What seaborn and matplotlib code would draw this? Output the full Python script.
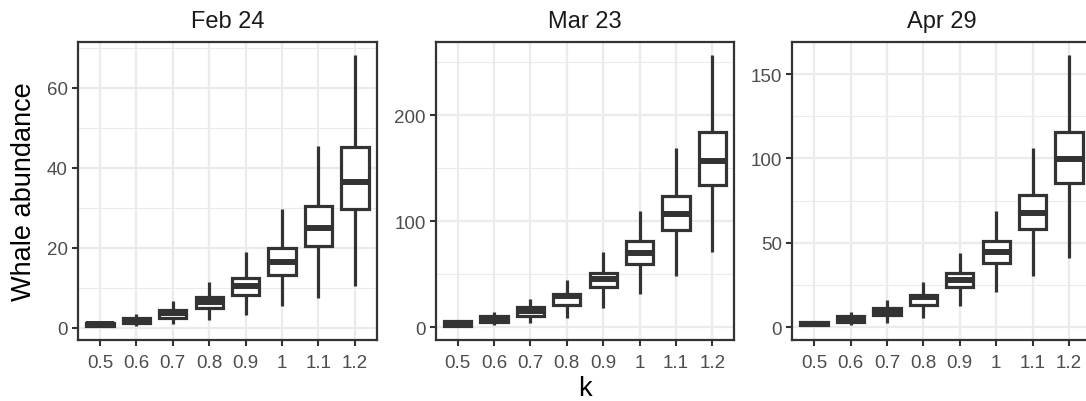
import matplotlib
matplotlib.use("Agg")
import matplotlib.pyplot as plt
import numpy as np
import pandas as pd
import seaborn as sns

# values: whisker low, q1, median, q3, whisker high per k
k_labels = ['0.5', '0.6', '0.7', '0.8', '0.9', '1', '1.1', '1.2']
dates = ['Feb 24', 'Mar 23', 'Apr 29']

feb_lo = [0.3, 0.5, 1.0, 1.9, 3.2, 5.3, 7.5, 10.4]
feb_q1 = [0.5, 1.1, 2.4, 4.8, 8.2, 13.2, 20.3, 29.6]
feb_med = [0.85, 1.8, 3.6, 6.4, 10.4, 16.4, 24.9, 36.5]
feb_q3 = [1.25, 2.4, 4.4, 7.7, 12.5, 19.8, 30.4, 45.2]
feb_hi = [1.7, 3.5, 6.6, 11.4, 18.8, 29.6, 45.4, 68.1]

mar_lo = [0.6, 1.6, 4.1, 8.5, 17.9, 31.1, 48.0, 70.6]
mar_q1 = [1.3, 4.4, 10.4, 21.0, 37.4, 59.7, 92.0, 134.4]
mar_med = [3.5, 7.8, 14.8, 28.9, 44.9, 70.0, 106.8, 156.7]
mar_q3 = [5.3, 10.4, 18.5, 31.4, 51.2, 81.3, 123.4, 183.7]
mar_hi = [6.9, 14.1, 26.1, 44.3, 70.6, 109.9, 169.2, 256.5]

apr_lo = [0.4, 1.4, 2.6, 5.7, 12.4, 20.7, 30.6, 40.9]
apr_q1 = [1.0, 3.0, 6.9, 13.2, 23.5, 38.3, 58.2, 85.5]
apr_med = [2.0, 4.9, 9.3, 17.8, 28.2, 44.4, 67.7, 99.7]
apr_q3 = [3.0, 6.3, 11.2, 19.3, 32.2, 51.1, 78.3, 115.8]
apr_hi = [3.9, 8.7, 16.0, 26.6, 43.8, 68.7, 106.4, 161.2]

major_ticks = [[0, 20, 40, 60], [0, 100, 200], [0, 50, 100, 150]]
minor_ticks = [[10, 30, 50, 70], [50, 150, 250], [25, 75, 125]]

panels = {
    'Feb 24': [feb_lo, feb_q1, feb_med, feb_q3, feb_hi],
    'Mar 23': [mar_lo, mar_q1, mar_med, mar_q3, mar_hi],
    'Apr 29': [apr_lo, apr_q1, apr_med, apr_q3, apr_hi],
}

# five points per box -> quartiles land exactly on the read values
rows = []
for d in dates:
    for stat in panels[d]:
        for k, v in zip(k_labels, stat):
            rows.append({'date': d, 'k': k, 'value': v})
df = pd.DataFrame(rows)

sns.set_style("white")
plt.rcParams['font.family'] = ['Liberation Sans', 'DejaVu Sans']

W, H = 1086, 402
fig = plt.figure(figsize=(W / 100, H / 100), dpi=100)

lefts = [78.1, 435.7, 792.3]
pw = 298.6
top, bottom = 42.7, 341.0

dark = '#333333'
for i, d in enumerate(dates):
    ax = fig.add_axes([lefts[i] / W, (H - bottom) / H, pw / W, (bottom - top) / H])
    sub = df[df['date'] == d]
    sns.boxplot(data=sub, x='k', y='value', order=k_labels, ax=ax,
                whis=(0, 100), width=0.75, color='white', saturation=1,
                linecolor=dark, linewidth=2.3, showcaps=False,
                medianprops=dict(linewidth=4.3, color=dark),
                whiskerprops=dict(linewidth=2.3, color=dark))
    vmin, vmax = sub['value'].min(), sub['value'].max()
    r = vmax - vmin
    ax.set_ylim(vmin - 0.05 * r, vmax + 0.05 * r)
    ax.set_xlim(-0.6, 7.6)
    ax.set_yticks(major_ticks[i])
    ax.set_yticks(minor_ticks[i], minor=True)
    ax.set_axisbelow(True)
    ax.grid(True, which='major', color='#EBEBEB', linewidth=1.6)
    ax.grid(True, which='minor', axis='y', color='#EBEBEB', linewidth=0.8)
    ax.tick_params(which='major', length=4.3, width=1.5, color=dark,
                   labelcolor='#4D4D4D', labelsize=13.5, pad=3,
                   bottom=True, left=True)
    ax.tick_params(axis='x', which='major', pad=6)
    ax.tick_params(which='minor', length=0)
    for s in ax.spines.values():
        s.set_color(dark)
        s.set_linewidth(1.6)
    ax.set_xlabel('')
    ax.set_ylabel('')
    ax.set_title(d, fontsize=17, color='#1A1A1A', pad=10.4)

fig.text(24 / W, 1 - 191.8 / H, 'Whale abundance', rotation=90,
         ha='center', va='center', fontsize=19.5, color='black')
fig.text(584.6 / W, 1 - 389 / H, 'k', ha='center', va='center',
         fontsize=19.5, color='black')

fig.savefig('out.png', dpi=100)
